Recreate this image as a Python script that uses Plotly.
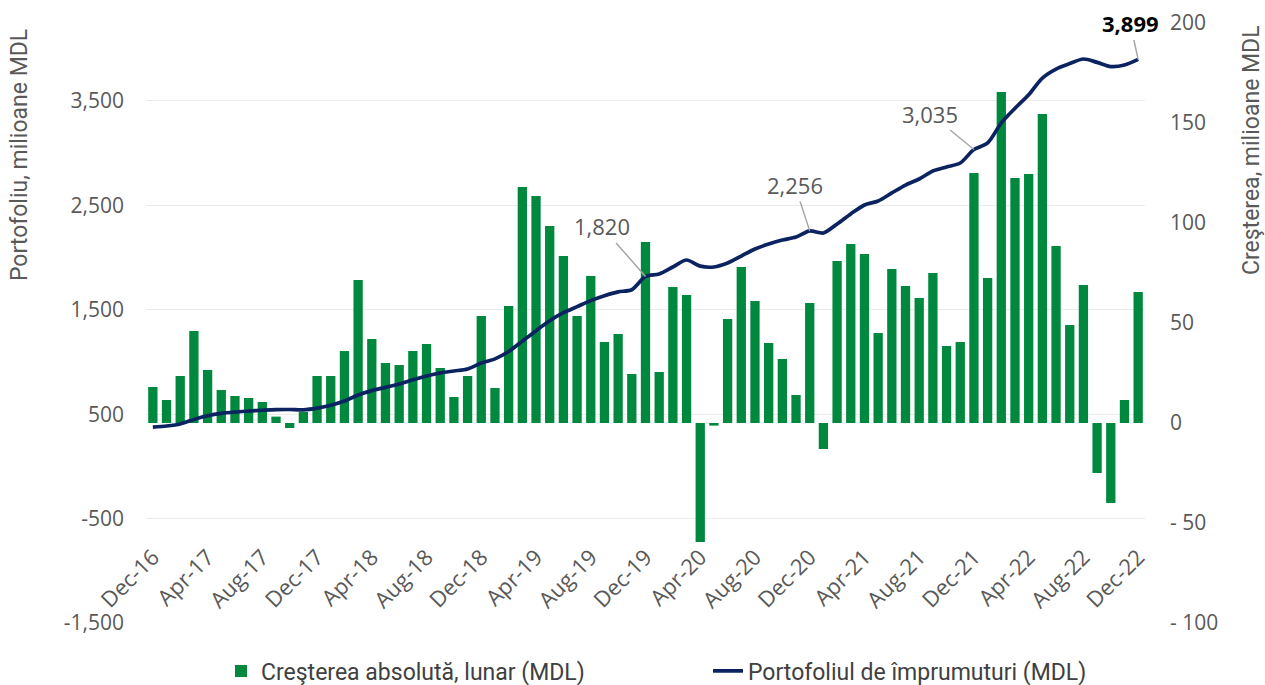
import plotly.graph_objects as go

months = [
    "Dec-16", "Jan-17", "Feb-17", "Mar-17", "Apr-17", "May-17", "Jun-17", "Jul-17", "Aug-17", "Sep-17", "Oct-17", "Nov-17",
    "Dec-17", "Jan-18", "Feb-18", "Mar-18", "Apr-18", "May-18", "Jun-18", "Jul-18", "Aug-18", "Sep-18", "Oct-18", "Nov-18",
    "Dec-18", "Jan-19", "Feb-19", "Mar-19", "Apr-19", "May-19", "Jun-19", "Jul-19", "Aug-19", "Sep-19", "Oct-19", "Nov-19",
    "Dec-19", "Jan-20", "Feb-20", "Mar-20", "Apr-20", "May-20", "Jun-20", "Jul-20", "Aug-20", "Sep-20", "Oct-20", "Nov-20",
    "Dec-20", "Jan-21", "Feb-21", "Mar-21", "Apr-21", "May-21", "Jun-21", "Jul-21", "Aug-21", "Sep-21", "Oct-21", "Nov-21",
    "Dec-21", "Jan-22", "Feb-22", "Mar-22", "Apr-22", "May-22", "Jun-22", "Jul-22", "Aug-22", "Sep-22", "Oct-22", "Nov-22",
    "Dec-22",
]

# Monthly absolute growth, million MDL (right axis)
growth = [
    18, 11.5, 23.5, 46, 26.5, 16.5, 13.5, 12.5, 10.5, 3.2, -2.5, 5.5,
    23.5, 23.5, 36, 71.5, 42, 30, 29, 36, 39.5, 27.5, 13, 23.5,
    53.5, 17.5, 58.5, 118, 113.5, 98.5, 83.5, 53.5, 73.5, 40.5, 44.5, 24.5,
    90.5, 25.5, 68, 64, -59.5, -1.3, 52, 78, 61, 40, 32, 14,
    60, -13, 81, 89.5, 84.5, 45, 77, 68.5, 62.5, 75, 38.5, 40.5,
    125, 72.5, 165.5, 122.5, 124.5, 154.5, 88.5, 49, 69, -25, -40, 11.5,
    65.5,
]

# Loan portfolio, million MDL (left axis)
portfolio = [
    377, 387, 406, 450, 485, 508, 521, 530, 538, 544, 545, 542,
    558, 585, 626, 684, 726, 757, 789, 830, 866, 895, 914, 933,
    990, 1030, 1100, 1200, 1300, 1395, 1472, 1530, 1588, 1635, 1672, 1692,
    1820, 1843, 1910, 1977, 1918, 1910, 1948, 2015, 2082, 2130, 2169, 2197,
    2256, 2236, 2322, 2418, 2504, 2542, 2619, 2695, 2753, 2829, 2868, 2906,
    3035, 3098, 3290, 3430, 3560, 3720, 3806, 3858, 3902, 3870, 3830, 3845,
    3899,
]

tick_months = months[::4]
left_ticks = [-1500, -500, 500, 1500, 2500, 3500]
left_labels = ["-1,500", "-500", "500", "1,500", "2,500", "3,500"]
right_ticks = [-100, -50, 0, 50, 100, 150, 200]
right_labels = ["- 100", "- 50", "0", "50", "100", "150", "200"]

labelled = [("Dec-19", 1820, "1,820"), ("Dec-20", 2256, "2,256"), ("Dec-21", 3035, "3,035"), ("Dec-22", 3899, "3,899")]
label_offsets = [(-44, -50), (-15, -46), (-44, -36), (-8, -36)]

bar_name = "Creşterea absolută, lunar (MDL)"
line_name = "Portofoliul de împrumuturi (MDL)"

GREEN = "#00893E"
NAVY = "#0B2361"
GRAY = "#595959"
TICKFONT = "Open Sans, DejaVu Sans, sans-serif"
CONDFONT = "Roboto, sans-serif"

fig = go.Figure()
fig.add_trace(go.Bar(
    x=months, y=growth, name=bar_name, yaxis="y",
    marker=dict(color=GREEN, line=dict(width=0)),
))
fig.add_trace(go.Scatter(
    x=months, y=portfolio, name=line_name, yaxis="y2", mode="lines",
    line=dict(color=NAVY, width=3.7, shape="spline", smoothing=0.8),
))

L, R, T, B = 146, 1145, 23, 623
W, H = 1265, 685
pw, ph = R - L, B - T

def px(xp):
    return (xp - L) / pw

def py(yp):
    return (B - yp) / ph

annotations = []
for (m, v, txt), (ax, ay) in zip(labelled, label_offsets):
    last = m == "Dec-22"
    annotations.append(dict(
        x=m, y=v, xref="x", yref="y2", text=("<b>%s</b>" % txt) if last else txt,
        showarrow=True, arrowhead=0, arrowwidth=1.5, arrowcolor="#A6A6A6",
        ax=ax, ay=ay, font=dict(family=TICKFONT, size=22, color="#000000" if last else GRAY),
    ))
annotations.append(dict(
    x=px(20), y=py(155), xref="paper", yref="paper", text="Portofoliu, milioane MDL",
    textangle=-90, showarrow=False, font=dict(family=CONDFONT, size=23, color=GRAY),
    xanchor="center", yanchor="middle",
))
annotations.append(dict(
    x=px(1251), y=py(150), xref="paper", yref="paper", text="Creşterea, milioane MDL",
    textangle=-90, showarrow=False, font=dict(family=CONDFONT, size=23, color=GRAY),
    xanchor="center", yanchor="middle",
))

fig.update_layout(
    width=W, height=H,
    margin=dict(l=L, r=W - R, t=T, b=H - B, pad=0, autoexpand=False),
    plot_bgcolor="white", paper_bgcolor="white",
    bargap=0.32,
    showlegend=True,
    legend=dict(
        orientation="h", x=px(708), xanchor="center", y=py(671), yanchor="middle",
        font=dict(family=CONDFONT, size=23, color="#404040"),
        entrywidth=442, entrywidthmode="pixels", traceorder="normal",
    ),
    xaxis=dict(
        type="category", range=[-0.5, len(months) - 0.5],
        tickmode="array", tickvals=tick_months, ticktext=tick_months,
        tickangle=-45, showgrid=False, showline=False, zeroline=False, ticks="",
        anchor="free", position=py(539),
        tickfont=dict(family=TICKFONT, size=22, color=GRAY),
    ),
    yaxis=dict(
        side="right", range=[-100, 200], tickmode="array",
        tickvals=right_ticks, ticktext=right_labels,
        showgrid=False, zeroline=False, showline=False, ticks="",
        tickfont=dict(family=TICKFONT, size=21, color=GRAY), ticklabelstandoff=24,
    ),
    yaxis2=dict(
        side="left", overlaying="y", range=[-1500, 4247], tickmode="array",
        tickvals=left_ticks, ticktext=left_labels,
        showgrid=True, gridcolor="#EBEBEB", gridwidth=1, zeroline=False, showline=False, ticks="",
        tickfont=dict(family=TICKFONT, size=21, color=GRAY), ticklabelstandoff=21,
    ),
    annotations=annotations,
)

fig.write_html(
    "out.html",
    config={"displayModeBar": False},
    post_script="document.body.style.margin='0';document.body.style.overflow='hidden';",
)
